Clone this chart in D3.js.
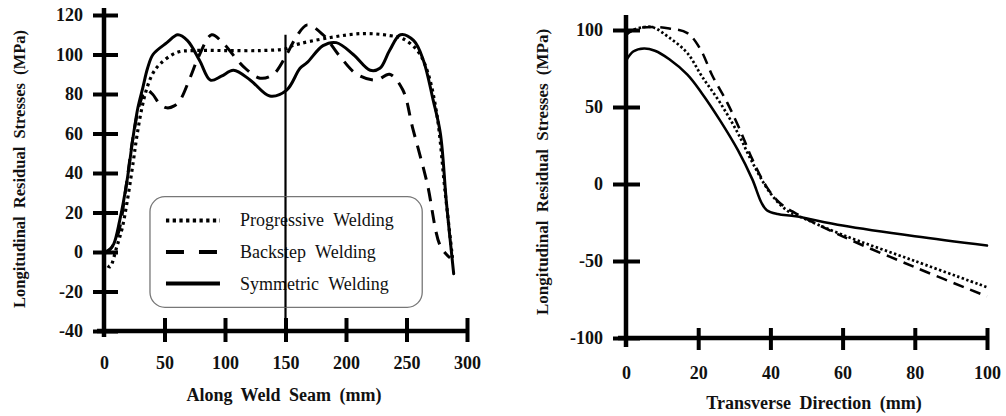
<!DOCTYPE html>
<html>
<head>
<meta charset="utf-8">
<script src="https://cdn.jsdelivr.net/npm/d3@7"></script>
<style>
  html, body { margin: 0; padding: 0; background: #fff; }
  svg { display: block; }
</style>
</head>
<body>
<svg id="chart" width="1006" height="416"></svg>
<script>
// ---------- Left panel data: Along weld seam ----------
const leftXTicks = [0, 50, 100, 150, 200, 250, 300];
const leftYTicks = [-40, -20, 0, 20, 40, 60, 80, 100, 120];
const leftProgressive = [[3,-7],[5,-7.5],[10.5,2.5],[15,12],[19,25],[24,45],[27,58],[31,72],[35,82],[40,90],[46,95],[60,101],[74,102],[100,102],[130,102],[151,103],[156,104.5],[187,108.6],[214,110.6],[236,109.6],[247,108],[259,102],[267,92],[275,70],[282,30],[288,-3]];
const leftBackstep = [[0,-1],[6,2],[12,10],[18,32],[24,58],[30,76],[35,82],[40,80],[46,75],[52,73],[58,74],[63,77],[71,88],[79,100],[89,110],[98,106],[115,94],[129,88],[140,90],[151,100],[159,109],[168,115],[181,110],[195,99],[209,90],[225,87],[236,90],[247,82],[255,63],[267,35],[278,3],[286,-3]];
const leftSymmetric = [[0,0],[4,1],[8,4],[13,16],[19,36],[24,58],[28,73],[32,83],[36,93],[40.5,100],[52,106],[61,110],[69,107],[79,97],[88,87],[97,89],[107,92],[121,87],[137,79],[151,82],[162,93],[168,96],[181,104.5],[192,106],[206,100],[220,92],[228,93],[236,102],[245,110],[256,107],[264,97],[272,77],[278,60],[283,25],[289,-11]];
const leftMarkerX = 150;

// ---------- Right panel data: Transverse direction ----------
const rightXTicks = [0, 20, 40, 60, 80, 100];
const rightYTicks = [-100, -50, 0, 50, 100];
const rightProgressive = [[0,97],[2,100],[7,102],[12,95],[17,85],[21,70],[26,53],[31,33],[35,14],[40,-6],[44.5,-17],[48,-21],[60,-33],[80,-50],[100,-67]];
const rightBackstep = [[0,97],[3,101],[8,102],[12,101],[17,98],[20.5,88],[24,70],[28,53],[31.6,35],[35,16],[39,-2],[42.7,-12.5],[47,-19],[60,-34],[80,-54],[100,-73]];
const rightSymmetric = [[0,80],[2,86],[5,88],[8,86.5],[12,81],[17,71],[21,59],[26,41.5],[31,22],[35,3],[37.5,-12],[39,-17],[42,-19.5],[47,-21],[60,-27],[80,-34],[100,-40]];

const legendLabels = ["Progressive Welding", "Backstep Welding", "Symmetric Welding"];

const FONT = '"Liberation Serif", "Times New Roman", Times, serif';
const svg = d3.select("#chart");

const styles = {
  progressive: { dash: "3,3.7", cap: "butt", w: 3.2 },
  backstep: { dash: "13,9", cap: "butt", w: 3 },
  symmetric: { dash: null, cap: "round", w: 3 }
};

function drawPanel(cfg) {
  const g = svg.append("g");
  const x = d3.scaleLinear().domain(cfg.xDomain).range(cfg.xRange);
  const y = d3.scaleLinear().domain(cfg.yDomain).range(cfg.yRange);
  const x0 = x(cfg.xDomain[0]);
  const y0 = y(cfg.yDomain[0]);

  const ya = g.append("g").attr("transform", `translate(${x0},0)`)
    .call(d3.axisLeft(y).tickValues(cfg.yTicks).tickSizeInner(cfg.yTickIn).tickSizeOuter(0).tickPadding(cfg.yPad).tickFormat(d => String(d)));
  ya.attr("font-family", FONT);
  ya.select(".domain").remove();
  ya.selectAll(".tick line").attr("x1", cfg.yTickOut).attr("stroke", "#000").attr("stroke-width", 4);
  ya.selectAll(".tick text").attr("font-size", cfg.tickFont).attr("font-weight", "bold")
    .attr("font-family", FONT).attr("fill", "#111");
  g.append("line").attr("x1", x0).attr("x2", x0)
    .attr("y1", y(cfg.yDomain[1]) - cfg.yAxisTopExt).attr("y2", y0 + cfg.yAxisBotExt)
    .attr("stroke", "#000").attr("stroke-width", 4.5);

  const xa = g.append("g").attr("transform", `translate(0,${y0})`)
    .call(d3.axisBottom(x).tickValues(cfg.xTicks).tickSizeInner(cfg.xTickIn).tickSizeOuter(0).tickPadding(cfg.xPad).tickFormat(d => String(d)));
  xa.attr("font-family", FONT);
  xa.select(".domain").remove();
  xa.selectAll(".tick line").attr("y1", -cfg.xTickOut).attr("stroke", "#000").attr("stroke-width", 4)
    .filter(d => d === cfg.xDomain[0]).remove();
  xa.selectAll(".tick text").attr("font-size", cfg.tickFont).attr("font-weight", "bold")
    .attr("font-family", FONT).attr("fill", "#111");
  g.append("line").attr("x1", x0 - cfg.xAxisLeftExt).attr("x2", x(cfg.xDomain[1]))
    .attr("y1", y0).attr("y2", y0).attr("stroke", "#000").attr("stroke-width", 4.5);

  g.append("text").attr("x", cfg.xTitlePos[0]).attr("y", cfg.xTitlePos[1])
    .attr("text-anchor", "middle").attr("font-size", cfg.titleFont).attr("font-weight", "bold")
    .attr("font-family", FONT).attr("fill", "#111")
    .attr("word-spacing", cfg.titleWordSpacing)
    .text(cfg.xTitle);
  g.append("text").attr("transform", `translate(${cfg.yTitlePos[0]},${cfg.yTitlePos[1]}) rotate(-90)`)
    .attr("text-anchor", "middle").attr("font-size", cfg.yTitleFont).attr("font-weight", "bold")
    .attr("font-family", FONT).attr("fill", "#111")
    .attr("word-spacing", cfg.titleWordSpacing)
    .text(cfg.yTitle);

  const line = d3.line().x(d => x(d[0])).y(d => y(d[1])).curve(d3.curveCatmullRom.alpha(0.5));
  cfg.series.forEach(s => {
    const st = s.style;
    g.append("path").datum(s.data).attr("d", line)
      .attr("fill", "none").attr("stroke", "#000")
      .attr("stroke-width", st.w * cfg.lineScale)
      .attr("stroke-linecap", st.cap)
      .attr("stroke-linejoin", "round")
      .attr("stroke-dasharray", st.dash ? (cfg.dashOverride && cfg.dashOverride[s.key] || st.dash) : null);
  });
  return { g, x, y };
}

const L = drawPanel({
  xDomain: [0, 300], xRange: [104, 467],
  yDomain: [-40, 120], yRange: [331, 15],
  xTicks: leftXTicks, yTicks: leftYTicks,
  yTickIn: 11, yTickOut: 14, yPad: 10,
  xTickIn: 11, xTickOut: 13, xPad: 14,
  yAxisTopExt: 7, yAxisBotExt: 6, xAxisLeftExt: 7,
  tickFont: 18, titleFont: 18, yTitleFont: 16.5, titleWordSpacing: 4,
  xTitle: "Along Weld Seam (mm)", xTitlePos: [284, 401],
  yTitle: "Longitudinal Residual Stresses (MPa)", yTitlePos: [25, 169],
  lineScale: 1,
  series: [
    { key: "progressive", data: leftProgressive, style: styles.progressive },
    { key: "backstep", data: leftBackstep, style: styles.backstep },
    { key: "symmetric", data: leftSymmetric, style: styles.symmetric }
  ]
});

L.g.append("line")
  .attr("x1", L.x(leftMarkerX)).attr("x2", L.x(leftMarkerX))
  .attr("y1", L.y(110)).attr("y2", L.y(-40) + 9)
  .attr("stroke", "#000").attr("stroke-width", 2.2);

const legX0 = L.x(38), legX1 = L.x(263);
const legY0 = L.y(28), legY1 = L.y(-28);
const lg = L.g.append("g");
lg.append("rect").attr("x", legX0).attr("y", legY0)
  .attr("width", legX1 - legX0).attr("height", legY1 - legY0)
  .attr("rx", 15).attr("ry", 15)
  .attr("fill", "#fff").attr("stroke", "#777").attr("stroke-width", 1.3);
const legendStyles = [
  { dash: "3.3,3.4" },
  { dash: "18,15" },
  { dash: null }
];
const legendRowY = [L.y(16), L.y(0), L.y(-16)];
legendLabels.forEach((lab, i) => {
  lg.append("line").attr("x1", legX0 + 16).attr("x2", legX0 + 70)
    .attr("y1", legendRowY[i]).attr("y2", legendRowY[i])
    .attr("stroke", "#000").attr("stroke-width", 4)
    .attr("stroke-dasharray", legendStyles[i].dash);
  lg.append("text").attr("x", legX0 + 90).attr("y", legendRowY[i] + 6)
    .attr("font-size", 18).attr("word-spacing", 5).attr("font-family", FONT).attr("fill", "#111")
    .text(lab);
});
L.g.append("line")
  .attr("x1", L.x(leftMarkerX)).attr("x2", L.x(leftMarkerX))
  .attr("y1", legY0).attr("y2", legY1)
  .attr("stroke", "#000").attr("stroke-width", 2.2);

drawPanel({
  xDomain: [0, 100], xRange: [626, 987],
  yDomain: [-100, 100], yRange: [338, 30],
  xTicks: rightXTicks, yTicks: rightYTicks,
  yTickIn: 13, yTickOut: 14, yPad: 10,
  xTickIn: 12, xTickOut: 10, xPad: 16,
  yAxisTopExt: 15, yAxisBotExt: 9, xAxisLeftExt: 8,
  tickFont: 18, titleFont: 18, yTitleFont: 17, titleWordSpacing: 4,
  xTitle: "Transverse Direction (mm)", xTitlePos: [814, 409],
  yTitle: "Longitudinal Residual Stresses (MPa)", yTitlePos: [548, 172],
  lineScale: 0.85,
  dashOverride: { progressive: "2.4,2.4", backstep: "11,7" },
  series: [
    { key: "progressive", data: rightProgressive, style: styles.progressive },
    { key: "backstep", data: rightBackstep, style: styles.backstep },
    { key: "symmetric", data: rightSymmetric, style: styles.symmetric }
  ]
});
</script>
</body>
</html>
